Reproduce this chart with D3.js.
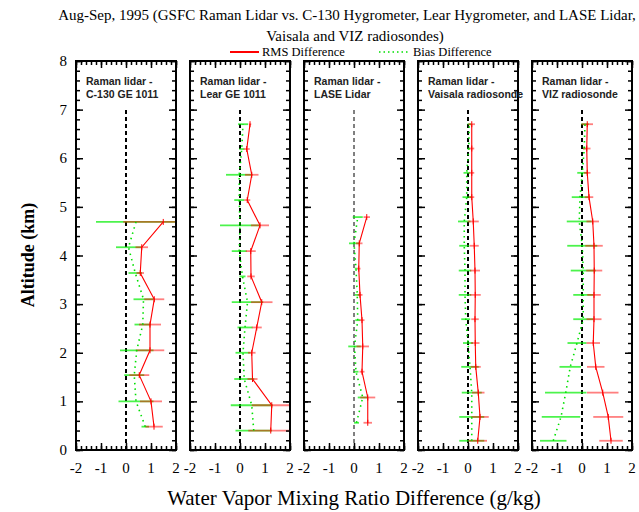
<!DOCTYPE html>
<html>
<head>
<meta charset="utf-8">
<script src="https://cdn.jsdelivr.net/npm/d3@7"></script>
<style>
  body { margin: 0; background: #fff; }
  svg { display: block; }
</style>
</head>
<body>
<div id="chart"></div>
<script>
// Raman lidar - C-130 GE 1011
const c130Alt = [0.48, 1.0, 1.54, 2.05, 2.58, 3.1, 3.64, 4.17, 4.69];
const c130Rms = [1.12, 1.0, 0.53, 0.96, 0.96, 1.13, 0.57, 0.63, 1.49];
const c130RmsErr = [0.35, 0.44, 0.4, 0.57, 0.44, 0.4, 0.15, 0.25, 1.6];
const c130Bias = [0.77, 0.4, 0.33, 0.43, 0.67, 0.7, 0.37, 0.1, 0.4];
const c130BiasErr = [0.15, 0.7, 0.4, 0.67, 0.33, 0.4, 0.27, 0.5, 1.6];

// Raman lidar - Lear GE 1011
const learAlt = [0.4, 0.92, 1.46, 2.0, 2.52, 3.04, 3.57, 4.09, 4.62, 5.14, 5.66, 6.19, 6.7];
const learRms = [1.23, 1.27, 0.5, 0.47, 0.67, 0.87, 0.44, 0.43, 0.8, 0.29, 0.47, 0.27, 0.4];
const learRmsErr = [0.9, 0.8, 0.2, 0.15, 0.2, 0.43, 0.15, 0.2, 0.36, 0.12, 0.27, 0.12, 0.05];
const learBias = [0.55, 0.47, 0.17, 0.12, 0.2, 0.3, 0.1, -0.03, 0.0, -0.03, -0.03, 0.07, 0.12];
const learBiasErr = [0.73, 0.84, 0.4, 0.3, 0.3, 0.63, 0.12, 0.3, 0.8, 0.2, 0.53, 0.1, 0.2];

// Raman lidar - LASE Lidar
const laseAlt = [0.56, 1.08, 1.61, 2.13, 2.67, 3.19, 3.73, 4.25, 4.79];
const laseRms = [0.55, 0.55, 0.32, 0.35, 0.32, 0.24, 0.19, 0.21, 0.51];
const laseRmsErr = [0.17, 0.3, 0.1, 0.25, 0.1, 0.1, 0.07, 0.13, 0.13];
const laseBias = [0.1, 0.35, 0.08, 0.02, 0.15, 0.13, 0.08, 0.0, 0.15];
const laseBiasErr = [0.1, 0.2, 0.1, 0.25, 0.1, 0.1, 0.05, 0.2, 0.2];

// Raman lidar - Vaisala radiosonde
const vaisalaAlt = [0.19, 0.68, 1.18, 1.71, 2.2, 2.69, 3.19, 3.69, 4.2, 4.7, 5.2, 5.7, 6.2, 6.7];
const vaisalaRms = [0.39, 0.48, 0.41, 0.31, 0.29, 0.28, 0.29, 0.28, 0.25, 0.21, 0.15, 0.15, 0.15, 0.15];
const vaisalaRmsErr = [0.37, 0.35, 0.25, 0.2, 0.17, 0.15, 0.22, 0.2, 0.18, 0.22, 0.1, 0.1, 0.1, 0.13];
const vaisalaBias = [0.15, 0.15, 0.15, 0.08, 0.0, -0.09, -0.12, -0.12, -0.15, -0.15, -0.05, -0.05, 0.03, 0.05];
const vaisalaBiasErr = [0.5, 0.5, 0.4, 0.35, 0.2, 0.18, 0.25, 0.25, 0.2, 0.25, 0.17, 0.13, 0.05, 0.07];

// Raman lidar - VIZ radiosonde
const vizAlt = [0.19, 0.68, 1.18, 1.71, 2.2, 2.69, 3.19, 3.69, 4.2, 4.7, 5.2, 5.7, 6.2, 6.7];
const vizRms = [1.16, 1.05, 0.83, 0.55, 0.45, 0.48, 0.48, 0.49, 0.48, 0.43, 0.28, 0.21, 0.19, 0.21];
const vizRmsErr = [0.47, 0.6, 0.63, 0.35, 0.27, 0.3, 0.27, 0.32, 0.35, 0.25, 0.17, 0.13, 0.15, 0.23];
const vizBias = [-1.15, -0.84, -0.65, -0.47, -0.2, 0.05, 0.05, 0.05, 0.01, -0.11, -0.08, 0.01, 0.09, 0.12];
const vizBiasErr = [0.53, 0.77, 0.83, 0.43, 0.38, 0.4, 0.4, 0.5, 0.6, 0.5, 0.33, 0.2, 0.05, 0.15];

const panelTitles = [
  ["Raman lidar -", "C-130 GE 1011"],
  ["Raman lidar -", "Lear GE 1011"],
  ["Raman lidar -", "LASE Lidar"],
  ["Raman lidar -", "Vaisala radiosonde"],
  ["Raman lidar -", "VIZ radiosonde"]
];
const xTicks = [-2, -1, 0, 1, 2];
const yTicks = [0, 1, 2, 3, 4, 5, 6, 7, 8];

const titleLines = [
  "Aug-Sep, 1995 (GSFC Raman Lidar vs. C-130 Hygrometer, Lear Hygrometer, and LASE Lidar,",
  "Vaisala and VIZ radiosondes)"
];
const legendLabels = ["RMS Difference", "Bias Difference"];

const panels = [
  { alt: c130Alt, rms: c130Rms, rmsErr: c130RmsErr, bias: c130Bias, biasErr: c130BiasErr, zeroWidth: 2 },
  { alt: learAlt, rms: learRms, rmsErr: learRmsErr, bias: learBias, biasErr: learBiasErr, zeroWidth: 2 },
  { alt: laseAlt, rms: laseRms, rmsErr: laseRmsErr, bias: laseBias, biasErr: laseBiasErr, zeroWidth: 1 },
  { alt: vaisalaAlt, rms: vaisalaRms, rmsErr: vaisalaRmsErr, bias: vaisalaBias, biasErr: vaisalaBiasErr, zeroWidth: 2 },
  { alt: vizAlt, rms: vizRms, rmsErr: vizRmsErr, bias: vizBias, biasErr: vizBiasErr, zeroWidth: 2 }
];

const width = 639,
  height = 512;
const serif = "'Liberation Serif', 'Times New Roman', serif";
const sans = "'Liberation Sans', Arial, sans-serif";

const svg = d3.select("#chart").append("svg").attr("width", width).attr("height", height);

const y = d3.scaleLinear().domain([0, 8]).range([450, 61]);
const panelW = 100;
const panelLeft = i => 76 + i * 114;

// title
svg
  .selectAll("text.title")
  .data(titleLines)
  .join("text")
  .attr("class", "title")
  .attr("x", (d, i) => (i === 0 ? 347 : 355))
  .attr("y", (d, i) => (i === 0 ? 20 : 41))
  .attr("text-anchor", "middle")
  .style("font-family", serif)
  .style("font-size", "15px")
  .text(d => d);

// legend
const legend = svg.append("g");
legend.append("line").attr("x1", 230).attr("x2", 259).attr("y1", 52).attr("y2", 52)
  .attr("stroke", "#ff0000").attr("stroke-width", 2);
legend.append("text").attr("x", 262).attr("y", 56).text(legendLabels[0]);
legend.append("line").attr("x1", 379).attr("x2", 409).attr("y1", 52).attr("y2", 52)
  .attr("stroke", "#00e000").attr("stroke-width", 1.5).attr("stroke-dasharray", "1.5,3");
legend.append("text").attr("x", 413).attr("y", 56).text(legendLabels[1]);
legend.selectAll("text").style("font-family", serif).style("font-size", "12.5px");

const defs = svg.append("defs");

panels.forEach((p, i) => {
  const left = panelLeft(i);
  const x = d3.scaleLinear().domain([-2, 2]).range([left, left + panelW]);
  const g = svg.append("g");

  defs.append("clipPath").attr("id", "clip" + i)
    .append("rect").attr("x", left).attr("y", y(8)).attr("width", panelW).attr("height", y(0) - y(8));

  // zero line
  g.append("line")
    .attr("x1", x(0)).attr("x2", x(0)).attr("y1", y(0)).attr("y2", y(7))
    .attr("stroke", "#000").attr("stroke-width", p.zeroWidth).attr("stroke-dasharray", "4,3");

  const rows = p.alt.map((a, k) => ({ alt: a, rms: p.rms[k], rmsErr: p.rmsErr[k], bias: p.bias[k], biasErr: p.biasErr[k] }));
  const marks = g.append("g").attr("clip-path", `url(#clip${i})`);

  // bias error bars
  marks.selectAll("line.berr")
    .data(rows)
    .join("line")
    .attr("class", "berr")
    .attr("x1", d => x(d.bias - d.biasErr))
    .attr("x2", d => x(d.bias + d.biasErr))
    .attr("y1", d => y(d.alt))
    .attr("y2", d => y(d.alt))
    .attr("stroke", "#00ee00")
    .attr("stroke-opacity", 0.7)
    .attr("stroke-width", 1.8);

  // rms error bars
  marks.selectAll("line.rerr")
    .data(rows)
    .join("line")
    .attr("class", "rerr")
    .attr("x1", d => x(d.rms - d.rmsErr))
    .attr("x2", d => x(d.rms + d.rmsErr))
    .attr("y1", d => y(d.alt))
    .attr("y2", d => y(d.alt))
    .attr("stroke", "#ff0000")
    .attr("stroke-opacity", 0.5)
    .attr("stroke-width", 1.8);

  marks.selectAll("line.rtick")
    .data(rows)
    .join("line")
    .attr("class", "rtick")
    .attr("x1", d => x(d.rms))
    .attr("x2", d => x(d.rms))
    .attr("y1", d => y(d.alt) - 3)
    .attr("y2", d => y(d.alt) + 3)
    .attr("stroke", "#ff0000")
    .attr("stroke-width", 1);

  // bias line (dotted)
  marks.append("path")
    .datum(rows)
    .attr("fill", "none")
    .attr("stroke", "#00e000")
    .attr("stroke-width", 1.6)
    .attr("stroke-dasharray", "1.5,4")
    .attr("d", d3.line().x(d => x(d.bias)).y(d => y(d.alt)));

  // rms line
  marks.append("path")
    .datum(rows)
    .attr("fill", "none")
    .attr("stroke", "#ff0000")
    .attr("stroke-width", 1.1)
    .attr("d", d3.line().x(d => x(d.rms)).y(d => y(d.alt)));

  // inward ticks on all four sides
  const minorY = d3.range(0, 8.001, 0.2),
    minorX = d3.range(-2, 2.001, 0.2);
  const tickAxes = [
    [d3.axisRight(y), `translate(${left},0)`, minorY, yTicks],
    [d3.axisLeft(y), `translate(${left + panelW},0)`, minorY, yTicks],
    [d3.axisTop(x), `translate(0,${y(0)})`, minorX, xTicks],
    [d3.axisBottom(x), `translate(0,${y(8)})`, minorX, xTicks]
  ];
  tickAxes.forEach(([axis, tr, minor, major]) => {
    g.append("g").attr("transform", tr)
      .call(axis.tickValues(minor).tickSize(4).tickFormat(""))
      .call(s => s.select(".domain").remove());
    g.append("g").attr("transform", tr)
      .call(axis.tickValues(major).tickSize(7).tickFormat(""))
      .call(s => s.select(".domain").remove());
  });
  g.selectAll(".tick line").attr("stroke", "#000").attr("stroke-width", 1.5);

  // frame
  g.append("rect")
    .attr("x", left).attr("y", y(8)).attr("width", panelW).attr("height", y(0) - y(8))
    .attr("fill", "none").attr("stroke", "#000").attr("stroke-width", 2);

  // x tick labels
  g.selectAll("text.xl")
    .data(xTicks)
    .join("text")
    .attr("class", "xl")
    .attr("x", d => x(d))
    .attr("y", 473)
    .attr("text-anchor", "middle")
    .style("font-family", serif)
    .style("font-size", "15px")
    .text(d => d);

  // panel title
  g.selectAll("text.pt")
    .data(panelTitles[i])
    .join("text")
    .attr("class", "pt")
    .attr("x", left + 10)
    .attr("y", (d, k) => 85 + k * 13)
    .attr("fill", "#222")
    .style("font-family", sans)
    .style("font-weight", "bold")
    .style("font-size", "10.5px")
    .text(d => d);
});

// y tick labels
svg.selectAll("text.yl")
  .data(yTicks)
  .join("text")
  .attr("class", "yl")
  .attr("x", 67)
  .attr("y", d => y(d) + 5)
  .attr("text-anchor", "end")
  .style("font-family", serif)
  .style("font-size", "15px")
  .text(d => d);

// axis titles
svg.append("text")
  .attr("transform", "translate(34,255) rotate(-90)")
  .attr("text-anchor", "middle")
  .style("font-family", serif)
  .style("font-weight", "bold")
  .style("font-size", "18px")
  .text("Altitude (km)");

svg.append("text")
  .attr("x", 354)
  .attr("y", 505)
  .attr("text-anchor", "middle")
  .style("font-family", serif)
  .style("font-size", "21px")
  .text("Water Vapor Mixing Ratio Difference (g/kg)");
</script>
</body>
</html>
